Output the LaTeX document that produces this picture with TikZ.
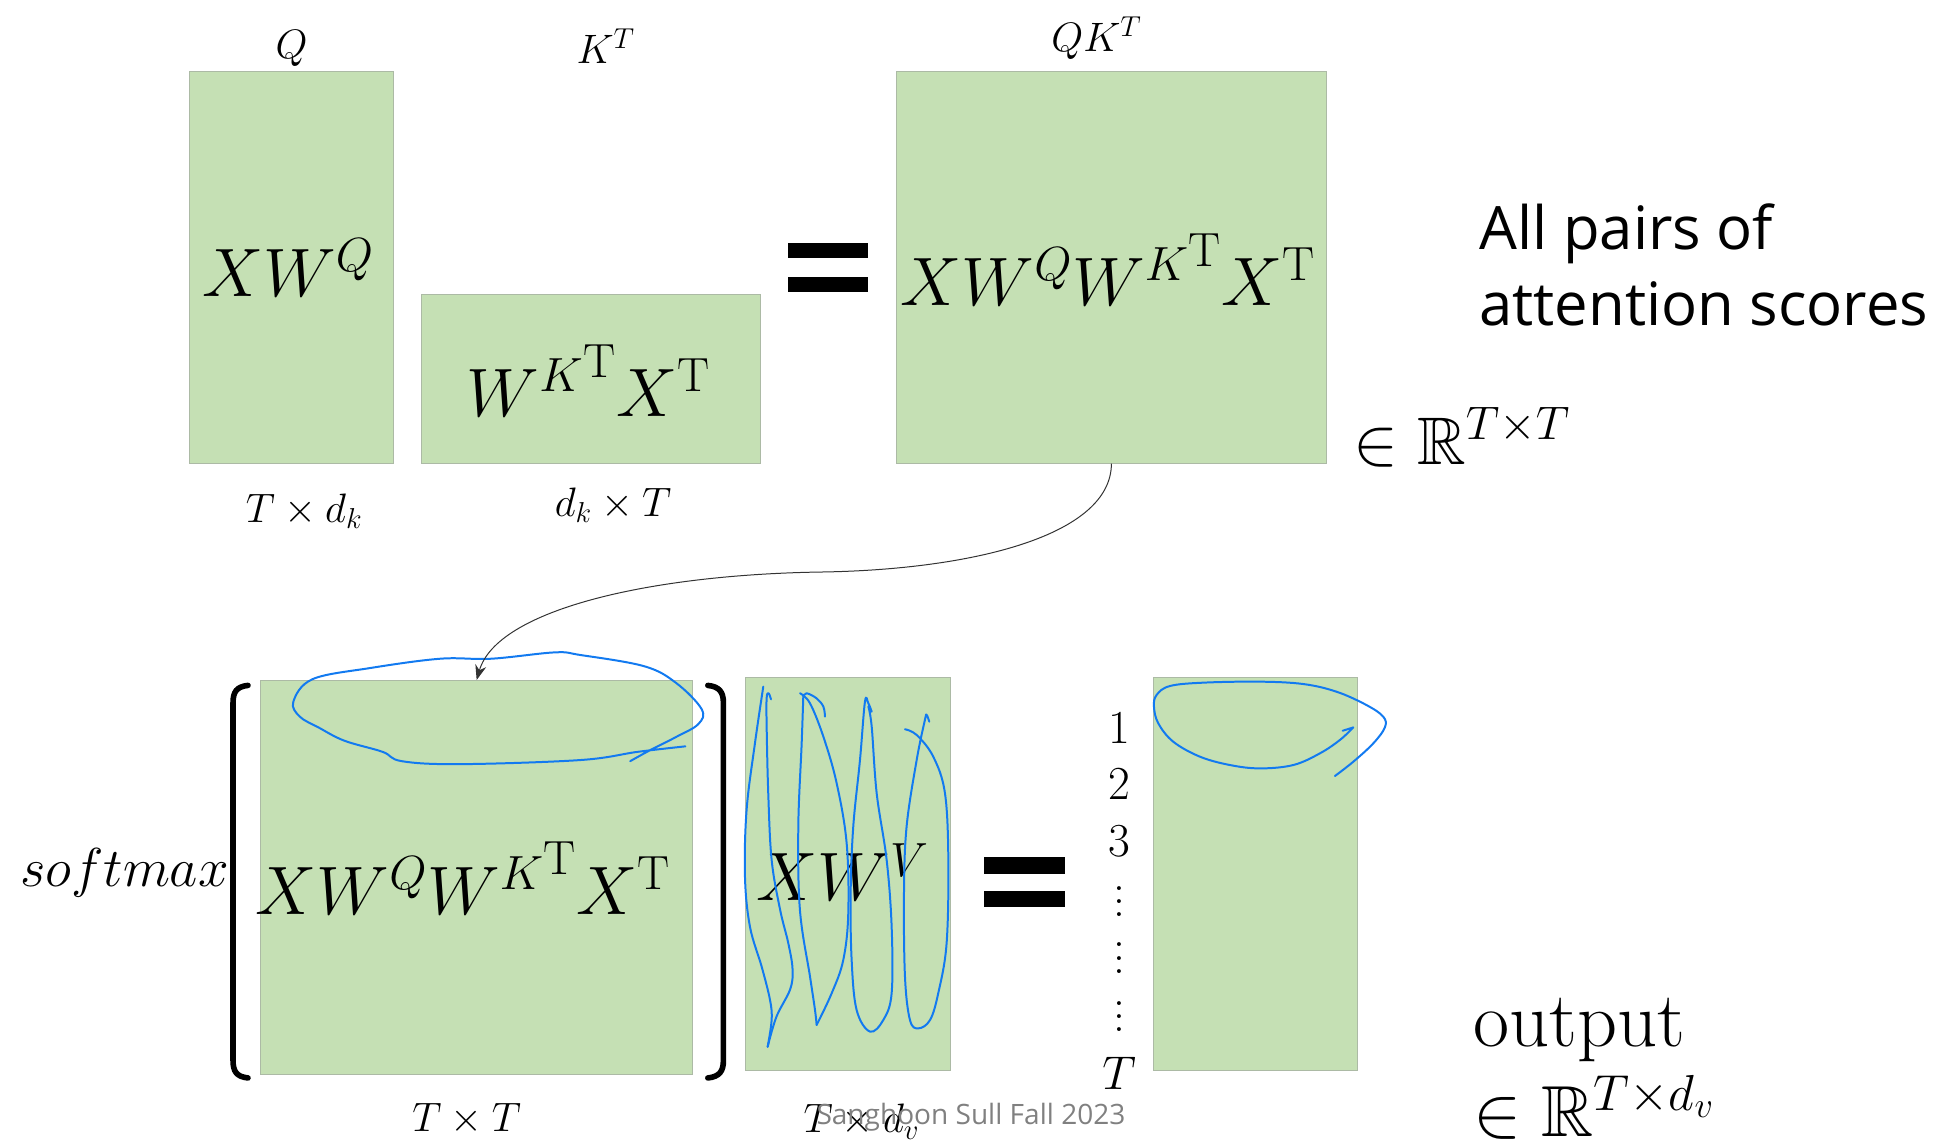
\RequirePackage{fix-cm}
\documentclass[tikz,border=0pt]{standalone}
\usepackage{fontspec}
\usepackage{amssymb}
\usetikzlibrary{positioning, arrows.meta}
\newfontfamily\notefont[WordSpace=1.6]{Open Sans}
\newfontfamily\creditfont{Open Sans}
\definecolor{matgreen}{RGB}{197,224,180}
\definecolor{matedge}{RGB}{172,186,165}
\definecolor{penblue}{RGB}{18,122,240}
\definecolor{creditgray}{RGB}{128,128,128}
\newcommand{\colvdots}{\vbox{\baselineskip=10.7pt \lineskiplimit=0pt \hbox{.}\hbox{.}\hbox{.}}}

\begin{document}
\begin{tikzpicture}[
    x=1pt, y=-1pt,
    mat/.style={
        rectangle,
        draw=matedge,
        line width=0.7pt,
        fill=matgreen,
        inner sep=0pt
    },
    formula/.style={
        anchor=base,
        inner sep=0pt,
        font=\fontsize{55}{60}\selectfont
    },
    dimlabel/.style={
        inner sep=0pt,
        font=\fontsize{33}{37}\selectfont
    },
    setlabel/.style={
        anchor=base west,
        inner sep=0pt,
        font=\fontsize{54}{58}\selectfont
    },
    note/.style={
        anchor=base west,
        inner sep=0pt,
        font=\notefont\fontsize{48}{58}\selectfont
    },
    rowidx/.style={
        anchor=base,
        inner sep=0pt,
        font=\fontsize{38}{42}\selectfont
    },
    credit/.style={
        anchor=base west,
        inner sep=0pt,
        text=creditgray,
        font=\creditfont\fontsize{22.5}{26}\selectfont
    },
    eqbar/.style={fill=black},
    bracket/.style={line width=4.5pt, line cap=round},
    link/.style={
        -{Stealth[length=12pt, width=9pt]},
        line width=0.8pt,
        draw=black!80
    },
    ink/.style={
        draw=penblue,
        line width=1.6pt,
        line cap=round,
        line join=round
    }
]
\useasboundingbox (0,0) rectangle (1568,918);

% Top row: Q K^T = QK^T
\node[mat, minimum width=164pt, minimum height=314.6pt] (q) at (234,214.3) {};
\node[mat, minimum width=272pt, minimum height=135.6pt] (kt) at (474,303.8) {};
\node[mat, minimum width=345.7pt, minimum height=314.6pt] (qk) at (891.85,214.3) {};

\node[formula] (qtxt) at (231,237.6) {$XW^{Q}$};
\node[formula] (kttxt) at (472,334) {${W^{K}}^{\mathrm{T}}X^{\mathrm{T}}$};
\node[formula] (qktxt) at (889,245) {$XW^{Q}{W^{K}}^{\mathrm{T}}X^{\mathrm{T}}$};

\node[dimlabel, above=3pt of q] (qlbl) {$Q$};
\node[dimlabel, anchor=base] (ktlbl) at (486,51) {$K^{T}$};
\node[dimlabel, above=9pt of qk, xshift=-12pt] (qklbl) {$QK^{T}$};
\node[dimlabel, below=24pt of q, xshift=10pt] (qdim) {$T\times d_k$};
\node[dimlabel, below=19pt of kt, xshift=18pt] (ktdim) {$d_k\times T$};

\fill[eqbar] (632,195) rectangle (696.5,207);
\fill[eqbar] (632,222) rectangle (696.5,234.5);

\node[note] (pairs1) at (1187,200.6) {All pairs of};
\node[note] (pairs2) at ([yshift=-60.4pt]pairs1.base west) {attention scores};
\node[setlabel] (qkset) at (1086,372.5) {$\in\mathbb{R}^{T\times T}$};

% Bottom row: softmax(...) XW^V = output
\node[mat, minimum width=347pt, minimum height=316pt] (sm) at (382.5,704) {};
\node[mat, minimum width=164.5pt, minimum height=315.2pt] (xv) at (680.25,701.1) {};
\node[mat, minimum width=163.3pt, minimum height=315.2pt] (out) at (1007.35,701.1) {};

\node[formula] (smtxt) at (371.5,733.5) {$XW^{Q}{W^{K}}^{\mathrm{T}}X^{\mathrm{T}}$};
\node[formula] (xvtxt) at (676,723) {$XW^{V}$};
\node[formula, font=\fontsize{44}{50}\selectfont] (smax) at (100,711) {$softmax$};

\draw[bracket] (199,550) .. controls (190,551) and (187,555) .. (187,564) -- (187,851) .. controls (187,860) and (190,864) .. (199,865);
\draw[bracket] (568,550) .. controls (577,551) and (580.5,555) .. (580.5,564) -- (580.5,851) .. controls (580.5,860) and (577,864) .. (568,865);

\node[dimlabel, below=23pt of sm, xshift=-8pt] (smdim) {$T\times T$};
\node[dimlabel, below=27pt of xv, xshift=11pt] (xvdim) {$T\times d_v$};

\fill[eqbar] (790,688) rectangle (855,701);
\fill[eqbar] (790,715) rectangle (855,728);

\node[rowidx] (r1) at (898,596.5) {1};
\node[rowidx] (r2) at (898,641.9) {2};
\node[rowidx] (r3) at (898,687.4) {3};
\node[rowidx, anchor=center] (d1) at (898,723.5) {\colvdots};
\node[rowidx, anchor=center] (d2) at (898,769) {\colvdots};
\node[rowidx, anchor=center] (d3) at (898,815.8) {\colvdots};
\node[rowidx] (rT) at (898,874.6) {$T$};

\node[formula, anchor=base west, font=\fontsize{63}{68}\selectfont] (outword) at (1182,839.4) {output};
\node[setlabel, font=\fontsize{58}{62}\selectfont] (outset) at (1182,912) {$\in\mathbb{R}^{T\times d_v}$};

\node[credit] (credit) at (655,902) {Sanghoon Sull Fall 2023};

% Pen marks
\draw[ink] plot[smooth, tension=0.6] coordinates {(550,598.9) (511.8,603.3) (465.7,609.9) (368.5,613.2) (322.4,610.8) (307,603.3) (276.4,594.4) (255.9,583.9) (240.5,575) (235.4,563) (250.8,545) (296.8,536.1) (353.1,528.6) (394,528.6) (445.3,523.5) (465.7,525.6) (516.9,534.6) (542.5,548) (563,569) (560.4,581) (542.5,591.4) (522,601.8) (505.7,610.8)};

\draw[ink] plot[smooth, tension=0.6] coordinates {(618.7,561.2) (616.8,556.4) (615.2,560) (615.2,583) (616.5,637) (619.2,690) (626,730) (632.6,757) (636,778) (634,794) (623,816) (616,840)};
\draw[ink] plot[smooth, tension=0.6] coordinates {(616,840) (619.2,818.5) (617.9,802.4) (611.2,775.7) (601.8,743.6) (597.8,703.5) (599.1,650) (605.8,596.5) (612.5,551)};
\draw[ink] plot[smooth, tension=0.6] coordinates {(644.6,559) (643.3,596.5) (640.6,663.3) (641.9,730.2) (650,783.7) (654,810.5) (655.3,822.5)};
\draw[ink] plot[smooth, tension=0.6] coordinates {(655.3,822.5) (667.4,797) (676.7,770.3) (680.7,732.9) (679.4,676.7) (671.4,628.6) (660.7,591.1) (650,564.4) (642,556.3)};
\draw[ink] plot[smooth, tension=0.6] coordinates {(644.6,559) (647.3,556.3) (655.3,560.4) (660.7,567) (662,575)};
\draw[ink] plot[smooth, tension=0.6] coordinates {(699.5,571.1) (696.8,564.4) (694.1,563) (690.1,609.8) (684.7,663.3) (682.6,716.8) (683.4,770.3) (687.4,810.5) (698.1,827.8) (708.8,818.5) (715.5,797) (715.5,743.6) (711.5,690.1) (703.5,636.6) (699.5,583.1) (696.8,567)};
\draw[ink] plot[smooth, tension=0.6] coordinates {(726.2,585.2) (735.6,589.8) (748.9,607.2) (758.3,636.6) (761,690.1) (759.6,757) (752.9,797) (746.3,818.5) (736.9,825.2) (730.2,818.5) (726.2,783.7) (725.4,716.8) (727.5,663.3) (735.6,609.8) (742.2,577.7) (743.6,573.7) (745.7,579.1)};

\draw[ink] plot[smooth, tension=0.6] coordinates {(1071.2,622.7) (1086,611.2) (1102,596.5) (1111.3,583.7) (1110,575.1) (1096.6,565.8) (1072.6,555.1) (1045.8,548.9) (1011,547) (965.6,547.8) (938.8,550.5) (928.1,557.7) (926,567.1) (929.5,580.5) (941.5,595.2) (962.9,607.2) (987,613.9) (1011,616.6) (1037.8,613.9) (1059.2,604.5) (1075.2,593.8) (1086,583.7)} -- (1077.4,586.4);

% Scores feed the softmax
\coordinate (bend) at (660,459);
\draw[link] (qk.south) .. controls +(0,58) and +(120,-2) .. (bend) .. controls +(-140,2) and +(16,-56) .. (sm.north);

\end{tikzpicture}
\end{document}
